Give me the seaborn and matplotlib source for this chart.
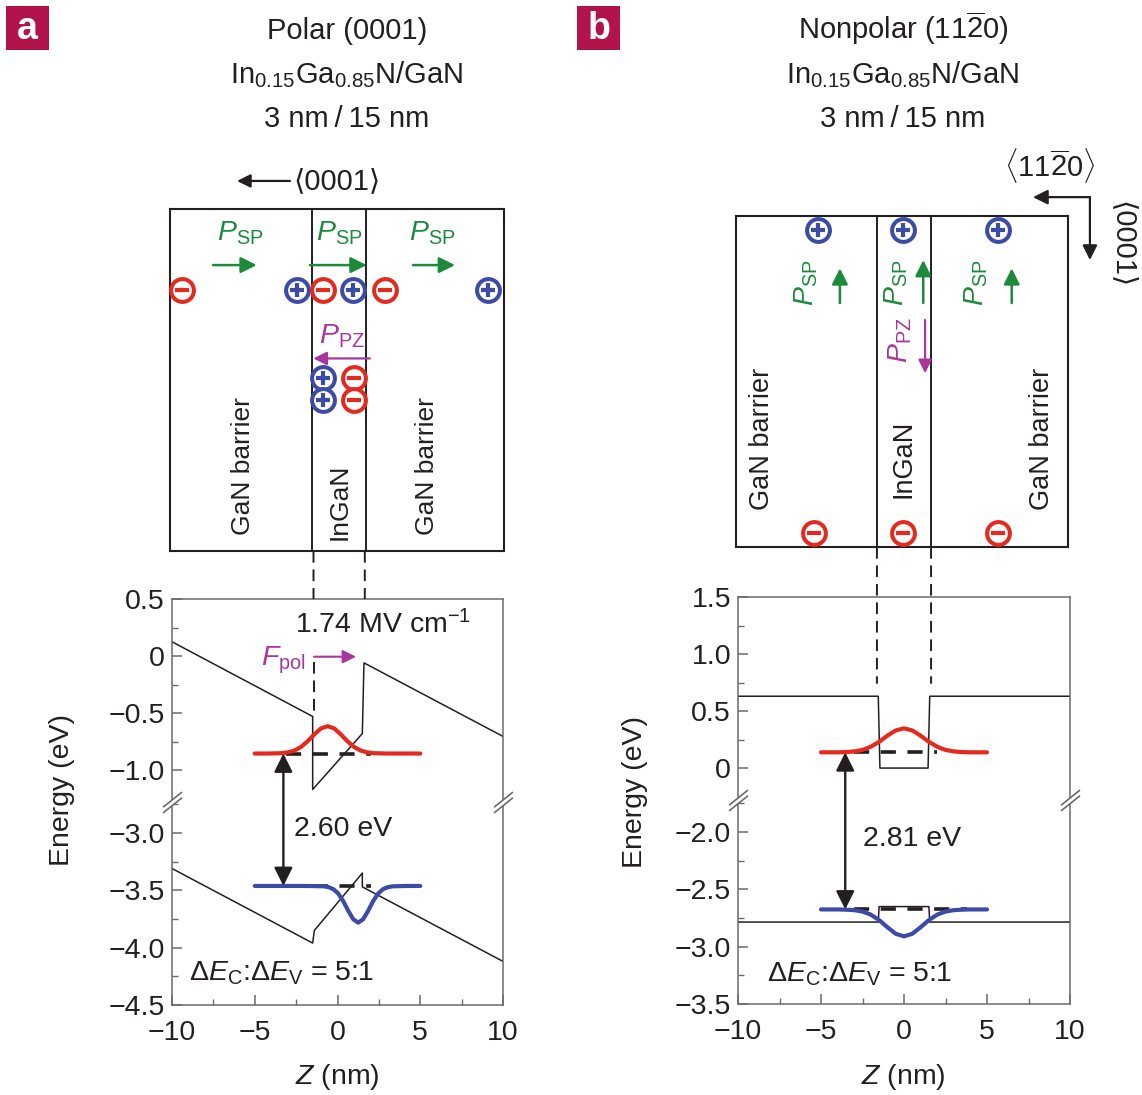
import matplotlib
matplotlib.use("Agg")
import matplotlib.pyplot as plt
import seaborn as sns
from matplotlib.patches import ConnectionPatch, Rectangle
from matplotlib.path import Path
from matplotlib.ticker import FixedLocator, MultipleLocator

sns.set_theme(style="ticks")
plt.rcParams["font.family"] = ["Liberation Sans", "DejaVu Sans"]
plt.rcParams["mathtext.fontset"] = "custom"
plt.rcParams["mathtext.rm"] = "Liberation Sans"
plt.rcParams["mathtext.it"] = "Liberation Sans:italic"
plt.rcParams["mathtext.bf"] = "Liberation Sans:bold"

# ---------------- band profiles: polar (0001) well ----------------
z_cb_polar = [-10, -1.5, -1.5, 1.5, 1.6, 10]
e_cb_polar = [0.125, -0.53, -1.17, -0.68, -0.06, -0.705]
z_vb_polar = [-10, -1.5, -1.4, 1.5, 1.5, 10]
e_vb_polar = [-3.31, -3.96, -3.85, -3.35, -3.47, -4.12]

z_el_polar = [-5.0, -4.2, -3.4, -3.0, -2.6, -2.2, -1.8, -1.4, -1.0, -0.6,
              -0.2, 0.2, 0.6, 1.0, 1.4, 1.8, 2.2, 3.0, 4.0, 5.0]
e_el_polar = [-0.855, -0.855, -0.852, -0.845, -0.829, -0.797, -0.747, -0.687,
              -0.635, -0.615, -0.635, -0.687, -0.747, -0.797, -0.829, -0.845,
              -0.852, -0.855, -0.855, -0.855]
z_hh_polar = [-5.0, -2.0, -0.85, -0.55, -0.25, 0.05, 0.35, 0.65, 0.95, 1.25,
              1.55, 1.85, 2.15, 2.45, 2.75, 3.05, 3.35, 4.2, 5.0]
e_hh_polar = [-3.462, -3.462, -3.465, -3.472, -3.490, -3.529, -3.595, -3.679,
              -3.752, -3.782, -3.752, -3.679, -3.595, -3.529, -3.490, -3.472,
              -3.465, -3.462, -3.462]
level_e_polar, level_h_polar = -0.855, -3.462
level_span_polar = [-3.1, 2.0]
gap_polar = 2.60
field_polar = 1.74

# ---------------- band profiles: nonpolar (11-20) well ----------------
z_cb_np = [-10, -1.55, -1.45, 1.45, 1.55, 10]
e_cb_np = [0.63, 0.63, 0.0, 0.0, 0.63, 0.63]
z_vb_np = [-10, -1.55, -1.5, 1.5, 1.55, 10]
e_vb_np = [-2.785, -2.785, -2.65, -2.65, -2.785, -2.785]

z_wf_np = [-5, -4, -3.5, -3, -2.5, -2, -1.5, -1, -0.5, 0,
           0.5, 1, 1.5, 2, 2.5, 3, 3.5, 4, 5]
e_el_np = [0.138, 0.138, 0.140, 0.146, 0.159, 0.187, 0.230, 0.284, 0.330, 0.348,
           0.330, 0.284, 0.230, 0.187, 0.159, 0.146, 0.140, 0.138, 0.138]
e_hh_np = [-2.675, -2.675, -2.677, -2.681, -2.693, -2.720, -2.768, -2.830, -2.887,
           -2.910, -2.887, -2.830, -2.768, -2.720, -2.693, -2.681, -2.677, -2.675,
           -2.675]
level_e_np, level_h_np = 0.138, -2.675
level_span_e_np = [-3.0, 2.0]
level_span_h_np = [-3.0, 3.8]
gap_np = 2.81

# ---------------- axis ticks ----------------
x_ticks = [-10, -5, 0, 5, 10]
x_tick_labels = ["\u221210", "\u22125", "0", "5", "10"]
polar_upper_ticks = [0.5, 0.0, -0.5, -1.0]
polar_upper_labels = ["0.5", "0", "\u22120.5", "\u22121.0"]
polar_lower_ticks = [-3.0, -3.5, -4.0, -4.5]
polar_lower_labels = ["\u22123.0", "\u22123.5", "\u22124.0", "\u22124.5"]
np_upper_ticks = [1.5, 1.0, 0.5, 0.0]
np_upper_labels = ["1.5", "1.0", "0.5", "0"]
np_lower_ticks = [-2.0, -2.5, -3.0, -3.5]
np_lower_labels = ["\u22122.0", "\u22122.5", "\u22123.0", "\u22123.5"]

# ---------------- layer schematics ----------------
polar_interfaces = [-1.55, 1.72]
polar_row_z = [-9.41, -2.47, -0.86, 0.95, 2.87, 9.11]
polar_row_sign = [-1, 1, -1, 1, -1, 1]
polar_pz_plus_z, polar_pz_minus_z = -0.86, 1.01
polar_pz_rows = [0.505, 0.442]
polar_psp_text_z = [-5.89, 0.09, 5.71]
polar_psp_arrows = [(-7.52, -4.88), (-1.66, 1.76), (4.56, 7.10)]

np_interfaces = [-1.63, 1.63]
np_top_plus_z = [-5.16, -0.04, 5.68]
np_bottom_minus_z = [-5.40, -0.04, 5.68]
np_psp_text_z = [-5.86, -0.44, 4.38]
np_psp_arrow_z = [-3.86, 1.16, 6.49]
np_psp_arrow_top = [0.842, 0.867, 0.842]

INK = "#231f20"
AXIS_GREY = "#6b6b6b"
RED = "#e4291f"
BLUE = "#3c4ba6"
GREEN = "#1b8a3b"
MAGENTA = "#a8369d"
CRIMSON = "#b2134a"

W, H = 1142, 1095
fig = plt.figure(figsize=(W / 100, H / 100), dpi=100, facecolor="white")


def px_axes(l, t, r, b):
    ax = fig.add_axes([l / W, 1 - b / H, (r - l) / W, (b - t) / H])
    ax.set_facecolor("none")
    return ax


def curve(ax, z, e, color, lw, zorder, **kw):
    sns.lineplot(x=z, y=e, ax=ax, color=color, linewidth=lw, sort=False,
                 estimator=None, zorder=zorder, **kw)


def arrow(ax, start, end, color, lw=1.8, ms=24, style="-|>", **kw):
    ax.annotate("", xy=end, xytext=start,
                arrowprops=dict(arrowstyle=style, color=color, lw=lw,
                                mutation_scale=ms, shrinkA=0, shrinkB=0),
                annotation_clip=False, **kw)


def charges(ax, zs, ys, sign):
    col = BLUE if sign > 0 else RED
    ax.scatter(zs, ys, s=270, facecolor="white", edgecolor=col, linewidth=2.9,
               zorder=4, clip_on=False)
    ax.scatter(zs, ys, s=95, marker="+" if sign > 0 else "_", color=col,
               linewidth=3.0, zorder=5, clip_on=False)


def layer_label(ax, z, y, text, size):
    ax.text(z, y, text, rotation=90, ha="center", va="bottom",
            fontsize=size, color=INK)


def schematic(ax, xlim, interfaces):
    ax.set_xlim(*xlim)
    ax.set_ylim(0, 1)
    ax.set_xticks([])
    ax.set_yticks([])
    for s in ax.spines.values():
        s.set_visible(True)
        s.set_color(INK)
        s.set_linewidth(1.5)
    for zi in interfaces:
        ax.axvline(zi, color=INK, lw=1.4)


d_brk = 0.3
gap_marker = Path([(-1, -0.8 - d_brk), (1, 0.8 - d_brk), (1, 0.8 + d_brk),
                   (-1, -0.8 + d_brk), (-1, -0.8 - d_brk)],
                  [Path.MOVETO, Path.LINETO, Path.LINETO, Path.LINETO, Path.CLOSEPOLY])
slash_marker = Path([(-1, -0.8 - d_brk), (1, 0.8 - d_brk), (-1, -0.8 + d_brk),
                     (1, 0.8 + d_brk)],
                    [Path.MOVETO, Path.LINETO, Path.MOVETO, Path.LINETO])


def band_axes(ax_t, ax_b, ylim_t, ylim_b, ticks_t, labels_t, ticks_b, labels_b):
    for ax in (ax_t, ax_b):
        ax.set_xlim(-10, 10)
        for s in ax.spines.values():
            s.set_color(AXIS_GREY)
            s.set_linewidth(1.1)
        ax.yaxis.set_minor_locator(MultipleLocator(0.25))
        ax.tick_params(which="both", direction="in", color=AXIS_GREY,
                       labelcolor=INK, left=True, right=False, top=False,
                       labelsize=20.5)
        ax.tick_params(which="major", length=7, width=1.1)
        ax.tick_params(which="minor", length=4, width=1.0)
        ax.tick_params(axis="y", pad=5)
        ax.set_xlabel("")
        ax.set_ylabel("")
    ax_t.set_ylim(*ylim_t)
    ax_b.set_ylim(*ylim_b)
    ax_t.spines["bottom"].set_visible(False)
    ax_b.spines["top"].set_visible(False)
    ax_t.tick_params(which="both", bottom=False, labelbottom=False)
    ax_t.yaxis.set_major_locator(FixedLocator(ticks_t))
    ax_t.set_yticklabels(labels_t)
    ax_b.yaxis.set_major_locator(FixedLocator(ticks_b))
    ax_b.set_yticklabels(labels_b)
    ax_b.xaxis.set_major_locator(FixedLocator(x_ticks))
    ax_b.set_xticklabels(x_tick_labels)
    ax_b.xaxis.set_minor_locator(MultipleLocator(2.5))
    ax_b.tick_params(which="both", bottom=True)
    ax_b.tick_params(axis="x", pad=11)
    for xa in (0, 1):
        ax_b.plot([xa], [1], transform=ax_b.transAxes, marker=gap_marker, ms=15,
                  mfc="white", mec="none", ls="none", clip_on=False, zorder=6)
        ax_b.plot([xa], [1], transform=ax_b.transAxes, marker=slash_marker, ms=15,
                  mfc="none", mec=AXIS_GREY, mew=1.2, ls="none", clip_on=False,
                  zorder=7)


def guide(box, ax, z, e_end):
    cp = ConnectionPatch(xyA=(z, 0), coordsA=box.transData, xyB=(z, e_end),
                         coordsB=ax.transData, color=INK, lw=1.4,
                         linestyle=(0, (6, 3.5)), capstyle="butt")
    fig.add_artist(cp)


def panel_letter(x0, letter):
    fig.add_artist(Rectangle((x0 / W, 1 - 50 / H), 43 / W, 44 / H,
                             transform=fig.transFigure, facecolor=CRIMSON,
                             edgecolor="none"))
    fig.text((x0 + 21.5) / W, 1 - 29 / H, letter, color="white", fontsize=27,
             fontweight="bold", ha="center", va="center")


def titles(xc, first):
    fig.text(xc / W, 1 - 39 / H, first, ha="center", va="baseline",
             fontsize=21, color=INK)
    fig.text(xc / W, 1 - 83 / H, r"In$_{0.15}$Ga$_{0.85}$N/GaN", ha="center",
             va="baseline", fontsize=21, color=INK)
    fig.text(xc / W, 1 - 127 / H, "3 nm\u2009/\u200915 nm", ha="center",
             va="baseline", fontsize=21, color=INK)


# ======================= panel a: polar =======================
panel_letter(6, "a")
titles(347, "Polar (0001)")

box_a = px_axes(170, 209, 504, 551)
schematic(box_a, (-10.12, 10.06), polar_interfaces)
for zc, sg in zip(polar_row_z, polar_row_sign):
    charges(box_a, [zc], [0.763], sg)
charges(box_a, [polar_pz_plus_z] * 2, polar_pz_rows, 1)
charges(box_a, [polar_pz_minus_z] * 2, polar_pz_rows, -1)
for zt in polar_psp_text_z:
    box_a.text(zt, 0.930, r"$P_{\mathrm{SP}}$", color=GREEN, fontsize=20.5,
               ha="center", va="center")
for z0, z1 in polar_psp_arrows:
    arrow(box_a, (z0, 0.836), (z1, 0.836), GREEN, lw=1.8, ms=24)
box_a.text(0.25, 0.627, r"$P_{\mathrm{PZ}}$", color=MAGENTA, fontsize=20.5,
           ha="center", va="center")
arrow(box_a, (1.96, 0.563), (-1.46, 0.563), MAGENTA, lw=1.6, ms=20)
layer_label(box_a, -5.71, 0.047, "GaN barrier", 19)
layer_label(box_a, 0.15, 0.032, "InGaN", 19)
layer_label(box_a, 5.41, 0.047, "GaN barrier", 19)
arrow(box_a, (-2.87, 1.082), (-6.07, 1.082), INK, lw=1.6, ms=20)
box_a.text(-2.69, 1.082, "\u27e80001\u27e9", ha="left", va="center",
           fontsize=21, color=INK)

ax_a_t = px_axes(172, 599, 503, 802)
ax_a_b = px_axes(172, 802, 503, 1005)
curve(ax_a_t, z_cb_polar, e_cb_polar, INK, 1.1, 2)
curve(ax_a_b, z_vb_polar, e_vb_polar, INK, 1.1, 2)
curve(ax_a_t, level_span_polar, [level_e_polar] * 2, INK, 2.6, 3,
      linestyle=(0, (4.2, 3.2)))
curve(ax_a_b, level_span_polar, [level_h_polar] * 2, INK, 2.6, 3,
      linestyle=(0, (4.2, 3.2)))
curve(ax_a_t, z_el_polar, e_el_polar, RED, 3.0, 4)
curve(ax_a_b, z_hh_polar, e_hh_polar, BLUE, 3.0, 4)
curve(ax_a_t, [-1.45, -1.45], [-0.05, -0.52], INK, 1.4, 2,
      linestyle=(0, (6, 3.5)))
band_axes(ax_a_t, ax_a_b, (-1.28, 0.5), (-4.5, -2.73),
          polar_upper_ticks, polar_upper_labels,
          polar_lower_ticks, polar_lower_labels)
guide(box_a, ax_a_t, -1.45, 0.5)
guide(box_a, ax_a_t, 1.65, 0.5)
ax_a_t.annotate("", xy=(-3.27, level_e_polar), xytext=(-3.27, level_h_polar),
                textcoords=ax_a_b.transData,
                arrowprops=dict(arrowstyle="<|-|>", color=INK, lw=1.7,
                                mutation_scale=28, shrinkA=0, shrinkB=0),
                annotation_clip=False)
ax_a_t.text(-2.56, 0.20, f"{field_polar:.2f} MV cm$^{{-1}}$", ha="left",
            va="baseline", fontsize=20.5, color=INK)
ax_a_t.text(-4.6, -0.08, r"$F_{\mathrm{pol}}$", ha="left", va="baseline",
            fontsize=20.5, color=MAGENTA)
arrow(ax_a_t, (-1.42, -0.006), (1.12, -0.006), MAGENTA, lw=1.5, ms=20)
ax_a_b.text(-2.6, -3.03, f"{gap_polar:.2f} eV", ha="left", va="baseline",
            fontsize=20.5, color=INK)
ax_a_b.text(-9.0, -4.29, "\u0394$E_{\\mathrm{C}}$:\u0394$E_{\\mathrm{V}}$ = 5:1",
            ha="left", va="baseline", fontsize=20.5, color=INK)
fig.text(62 / W, 1 - 790 / H, "Energy (eV)", rotation=90, ha="center",
         va="center", fontsize=20.5, color=INK)
fig.text(337 / W, 1 - 1077 / H, r"$Z$ (nm)", ha="center", va="center",
         fontsize=20.5, color=INK)

# ======================= panel b: nonpolar =======================
panel_letter(577, "b")
titles(903, r"Nonpolar (11$\overline{2}$0)")

box_b = px_axes(736, 216, 1068, 547)
schematic(box_b, (-10.12, 9.88), np_interfaces)
charges(box_b, np_top_plus_z, [0.959] * 3, 1)
charges(box_b, np_bottom_minus_z, [0.041] * 3, -1)
for zt in np_psp_text_z:
    box_b.text(zt, 0.798, r"$P_{\mathrm{SP}}$", color=GREEN, fontsize=20.5,
               rotation=90, ha="center", va="center")
for za, ytop in zip(np_psp_arrow_z, np_psp_arrow_top):
    arrow(box_b, (za, 0.737), (za, ytop), GREEN, lw=1.8, ms=24)
box_b.text(-0.24, 0.625, r"$P_{\mathrm{PZ}}$", color=MAGENTA, fontsize=20.5,
           rotation=90, ha="center", va="center")
arrow(box_b, (1.27, 0.686), (1.27, 0.525), MAGENTA, lw=1.6, ms=20)
layer_label(box_b, -8.57, 0.112, "GaN barrier", 19.5)
layer_label(box_b, -0.04, 0.148, "InGaN", 19.5)
layer_label(box_b, 8.30, 0.112, "GaN barrier", 19.5)
arrow(box_b, (11.2, 1.057), (7.77, 1.057), INK, lw=1.6, ms=22)
arrow(box_b, (11.2, 1.057), (11.2, 0.867), INK, lw=1.6, ms=22)
box_b.text(8.8, 1.154, r"$\langle$11$\overline{2}$0$\rangle$", ha="center",
           va="center", fontsize=21, color=INK)
box_b.text(13.13, 0.915, "\u27e80001\u27e9", rotation=-90, ha="center",
           va="center", fontsize=21, color=INK)

ax_b_t = px_axes(738, 597, 1070, 800)
ax_b_b = px_axes(738, 800, 1070, 1004)
curve(ax_b_t, z_cb_np, e_cb_np, INK, 1.1, 2)
curve(ax_b_b, z_vb_np, e_vb_np, INK, 1.1, 2)
curve(ax_b_t, level_span_e_np, [level_e_np] * 2, INK, 2.6, 3,
      linestyle=(0, (4.2, 3.2)))
curve(ax_b_b, level_span_h_np, [level_h_np] * 2, INK, 2.6, 3,
      linestyle=(0, (4.2, 3.2)))
curve(ax_b_t, z_wf_np, e_el_np, RED, 3.0, 4)
curve(ax_b_b, z_wf_np, e_hh_np, BLUE, 3.0, 4)
band_axes(ax_b_t, ax_b_b, (-0.28, 1.5), (-3.5, -1.72),
          np_upper_ticks, np_upper_labels, np_lower_ticks, np_lower_labels)
guide(box_b, ax_b_t, -1.63, 0.74)
guide(box_b, ax_b_t, 1.63, 0.74)
ax_b_t.annotate("", xy=(-3.54, level_e_np), xytext=(-3.54, level_h_np),
                textcoords=ax_b_b.transData,
                arrowprops=dict(arrowstyle="<|-|>", color=INK, lw=1.7,
                                mutation_scale=28, shrinkA=0, shrinkB=0),
                annotation_clip=False)
ax_b_b.text(-2.45, -2.12, f"{gap_np:.2f} eV", ha="left", va="baseline",
            fontsize=20.5, color=INK)
ax_b_b.text(-8.27, -3.30, "\u0394$E_{\\mathrm{C}}$:\u0394$E_{\\mathrm{V}}$ = 5:1",
            ha="left", va="baseline", fontsize=20.5, color=INK)
fig.text(635 / W, 1 - 792 / H, "Energy (eV)", rotation=90, ha="center",
         va="center", fontsize=20.5, color=INK)
fig.text(903 / W, 1 - 1077 / H, r"$Z$ (nm)", ha="center", va="center",
         fontsize=20.5, color=INK)

fig.savefig("out.png", dpi=100, facecolor="white")
